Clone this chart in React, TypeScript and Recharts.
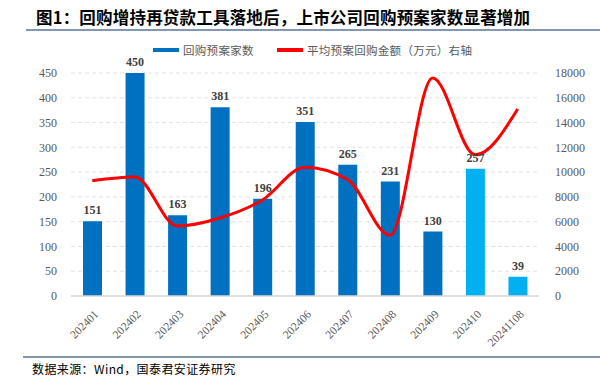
import { ComposedChart, Bar, Line, XAxis, YAxis, CartesianGrid, Cell, LabelList } from 'recharts'

const months = ['202401', '202402', '202403', '202404', '202405', '202406', '202407', '202408', '202409', '202410', '20241108']
const planCounts = [151, 450, 163, 381, 196, 351, 265, 231, 130, 257, 39]
const avgAmount = [9300, 9600, 5650, 6300, 7750, 10400, 9400, 4900, 17600, 11400, 15100]
const leftTicks = [0, 50, 100, 150, 200, 250, 300, 350, 400, 450]
const rightTicks = [0, 2000, 4000, 6000, 8000, 10000, 12000, 14000, 16000, 18000]

const data = months.map((m, i) => ({ month: m, count: planCounts[i], amount: avgAmount[i] }))

const serif = '"Liberation Serif", "DejaVu Serif", serif'
const cjk = '"Noto Sans CJK SC", sans-serif'

// rotated month label, right end sits just below the tick
function MonthTick(props: any) {
    const { x, y, payload } = props
    return (
        <g transform={`translate(${x + 4},${y + 8})`}>
            <text transform="rotate(-45)" textAnchor="end" fontFamily={serif} fontSize={11.5} fill="#595959" dy={4}>
                {payload.value}
            </text>
        </g>
    )
}

export default function App() {
    return (
        <div style={{ position: 'absolute', left: 0, top: 0, width: 600, height: 378, background: '#fff', overflow: 'hidden' }}>
            <div style={{ position: 'absolute', left: 36, top: 5, lineHeight: '24px', fontFamily: cjk, fontWeight: 700, fontSize: 16.5, letterSpacing: 0.2, color: '#000', whiteSpace: 'nowrap' }}>
                图1：回购增持再贷款工具落地后，上市公司回购预案家数显著增加
            </div>
            <div style={{ position: 'absolute', left: 26, top: 29, width: 574, height: 1.5, background: '#8497B0' }} />

            {/* legend */}
            <div style={{ position: 'absolute', left: 153, top: 48, width: 26, height: 4, background: '#0070C0' }} />
            <div style={{ position: 'absolute', left: 183, top: 42, lineHeight: '16px', fontFamily: cjk, fontSize: 11.5, letterSpacing: 0.3, color: '#595959', whiteSpace: 'nowrap' }}>回购预案家数</div>
            <div style={{ position: 'absolute', left: 277, top: 48, width: 26, height: 3.5, background: '#FF0000' }} />
            <div style={{ position: 'absolute', left: 307, top: 42, lineHeight: '16px', fontFamily: cjk, fontSize: 11.5, letterSpacing: 0.3, color: '#595959', whiteSpace: 'nowrap' }}>平均预案回购金额（万元）右轴</div>

            <div style={{ position: 'absolute', left: 0, top: 0 }}>
                <ComposedChart width={600} height={378} data={data} margin={{ top: 73, right: 11, bottom: 32, left: 21 }}>
                    <CartesianGrid yAxisId="left" vertical={false} stroke="#E3E3E3" strokeDasharray="4 3" />
                    <XAxis
                        dataKey="month"
                        height={50}
                        interval={0}
                        tickLine={false}
                        axisLine={{ stroke: '#D9D9D9', strokeWidth: 1.5 }}
                        tick={<MonthTick />}
                    />
                    <YAxis
                        yAxisId="left"
                        width={50}
                        domain={[0, 450]}
                        ticks={leftTicks}
                        tickLine={false}
                        axisLine={false}
                        tickMargin={8}
                        tick={{ fontFamily: serif, fontSize: 12, fill: '#595959' }}
                    />
                    <YAxis
                        yAxisId="right"
                        orientation="right"
                        width={50}
                        domain={[0, 18000]}
                        ticks={rightTicks}
                        tickLine={false}
                        axisLine={false}
                        tickMargin={10}
                        tick={{ fontFamily: serif, fontSize: 12, fill: '#595959', textAnchor: 'start' }}
                    />
                    <Bar yAxisId="left" dataKey="count" barSize={19} isAnimationActive={false}>
                        {data.map((d, i) => (
                            <Cell key={d.month} fill={i >= 9 ? '#00B0F0' : '#0070C0'} />
                        ))}
                        <LabelList dataKey="count" position="top" offset={7} style={{ fontFamily: serif, fontSize: 12, fontWeight: 700, fill: '#404040' }} />
                    </Bar>
                    <Line
                        yAxisId="right"
                        dataKey="amount"
                        type="monotone"
                        stroke="#FF0000"
                        strokeWidth={3}
                        dot={false}
                        activeDot={false}
                        isAnimationActive={false}
                    />
                </ComposedChart>
            </div>

            <div style={{ position: 'absolute', left: 23, top: 356, width: 577, height: 1.5, background: '#8497B0' }} />
            <div style={{ position: 'absolute', left: 32, top: 362, lineHeight: '14px', fontFamily: cjk, fontSize: 12, letterSpacing: 0.4, color: '#000', whiteSpace: 'nowrap' }}>
                数据来源：Wind，国泰君安证券研究
            </div>
        </div>
    )
}
